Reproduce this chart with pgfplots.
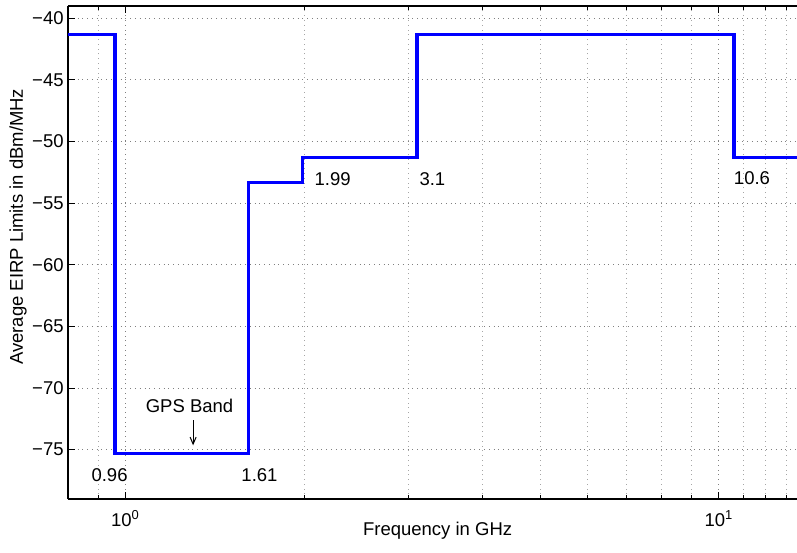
\documentclass[border=0pt]{standalone}
\usepackage{fontspec}
\setmainfont{Liberation Sans}
\usepackage{pgfplots}
\pgfplotsset{compat=1.18}
\usetikzlibrary{arrows.meta}
\newcommand{\cf}{\fontsize{9.25bp}{11bp}\selectfont}
\begin{document}
\begin{tikzpicture}[font=\cf]
\begin{axis}[
  scale only axis, width=364.5bp, height=246.5bp,
  xmode=log, xmin=0.8, xmax=13.54, ymin=-79, ymax=-39,
  axis x line*=box, axis y line*=left,
  axis line style={-, line width=0.6bp, black},
  xtick={1,10}, xticklabels={10\textsuperscript{0},10\textsuperscript{1}},
  minor xtick={0.9,2,3,4,5,6,7,8,9,11,12,13},
  ytick={-75,-70,-65,-60,-55,-50,-45,-40},
  yticklabels={−75,−70,−65,−60,−55,−50,−45,−40},
  grid=both,
  major grid style={dotted, line width=0.5bp, black!50},
  minor grid style={dotted, line width=0.5bp, black!35},
  tick align=inside, major tick length=3.5bp, minor tick length=2bp,
  tick style={black, line width=0.5bp},
  tick label style={font=\cf},
  label style={font=\cf},
  xticklabel style={anchor=base, inner sep=0pt, yshift=-13.85bp},
  yticklabel style={anchor=east, inner sep=0pt, xshift=-2bp},
  xlabel={Frequency in GHz}, ylabel={Average EIRP Limits in dBm/MHz},
  xlabel style={at={(rel axis cs:0.507,0)}, anchor=center, yshift=-16bp},
  ylabel style={at={(rel axis cs:0,0.552)}, anchor=center, yshift=25bp},
]
\addplot[const plot, blue, line width=1.6bp, line join=miter] coordinates {
  (0.8,-41.3) (0.96,-75.3) (1.61,-53.3) (1.99,-51.3) (3.1,-41.3) (10.6,-51.3) (14,-51.3)
};
\node at (axis cs:0.94,-77.1) {0.96};
\node at (axis cs:1.682,-77.1) {1.61};
\node at (axis cs:2.234,-53.04) {1.99};
\node at (axis cs:3.29,-53.04) {3.1};
\node at (axis cs:11.37,-53.0) {10.6};
\node at (axis cs:1.282,-71.47) {GPS Band};
\draw[-{Straight Barb[length=3.5bp,width=3bp]}, line width=0.5bp] (axis cs:1.30,-72.6) -- (axis cs:1.30,-74.65);
\end{axis}
\pgfresetboundingbox
\path ([shift={(-34bp,-27bp)}]current axis.south west) rectangle ([shift={(0bp,3bp)}]current axis.north east);
\end{tikzpicture}
\end{document}
